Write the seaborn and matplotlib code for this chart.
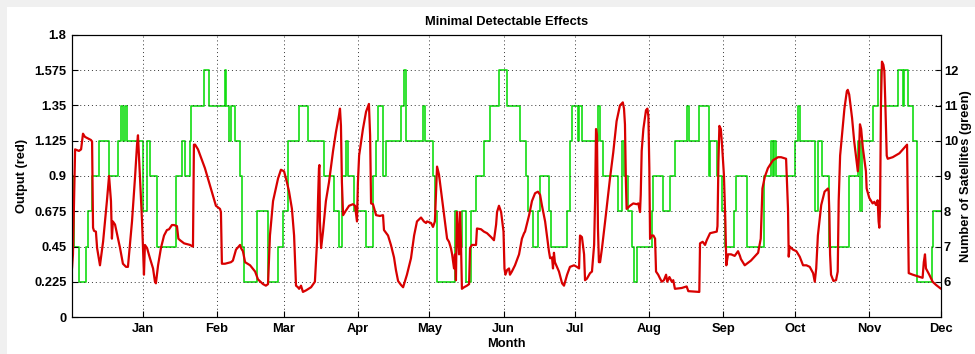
import numpy as np
import pandas as pd
import matplotlib
matplotlib.use("Agg")
import matplotlib.pyplot as plt
import seaborn as sns
from matplotlib.patches import Rectangle

# ---------------- data ----------------
# x unit: days since 1 Dec of the previous year
month_labels = ["Jan", "Feb", "Mar", "Apr", "May", "Jun", "Jul", "Aug", "Sep", "Oct", "Nov", "Dec"]
month_days = [31, 62, 90, 121, 151, 182, 212, 243, 274, 304, 335, 365]

left_ticks = [0, 0.225, 0.45, 0.675, 0.9, 1.125, 1.35, 1.575, 1.8]
left_tick_labels = ["0", "0.225", "0.45", "0.675", "0.9", "1.125", "1.35", "1.575", "1.8"]
right_ticks = [6, 7, 8, 9, 10, 11, 12]

# number of satellites (green), value holds from each day until the next
sat_days = [1.5, 2.3, 4.4, 7.4, 8.2, 9.9, 12.8, 17.0, 20.7, 22.0, 22.8, 23.7, 24.5, 31.2, 32.9,
            34.1, 37.1, 45.0, 47.5, 48.8, 50.9, 51.3, 56.7, 58.8, 65.5, 65.9, 67.2, 68.0, 69.7,
            71.8, 72.6, 73.4, 78.9, 83.5, 87.7, 89.8, 91.9, 96.5, 100.2, 106.9, 111.1, 113.2,
            114.4, 116.1, 117.0, 119.5, 124.5, 127.4, 128.7, 129.5, 131.6, 132.9, 139.1, 140.4,
            141.2, 148.3, 149.2, 152.5, 153.3, 154.2, 161.7, 162.6, 164.6, 166.3, 168.4, 170.5,
            173.8, 176.4, 180.1, 183.5, 188.9, 191.4, 192.2, 194.3, 196.4, 197.3, 201.0, 201.9,
            208.6, 209.8, 210.7, 213.2, 213.6, 214.8, 221.5, 222.4, 223.6, 229.9, 231.6, 232.4,
            234.1, 235.7, 236.6, 237.8, 244.1, 244.5, 248.7, 251.6, 253.7, 258.8, 259.6, 263.8,
            268.0, 268.4, 271.3, 273.4, 274.7, 278.4, 279.3, 283.9, 291.0, 293.9, 294.7, 295.2,
            296.0, 303.9, 305.2, 306.0, 312.3, 313.6, 315.2, 318.2, 326.5, 330.3, 331.1, 332.0,
            336.6, 338.7, 339.9, 347.0, 349.1, 349.5, 351.2, 353.3, 355.0, 361.2, 361.7, 365.0]
sat_counts = [9, 7, 6, 7, 8, 9, 10, 9, 10, 11, 10, 11, 10, 8, 10,
              9, 7, 9, 10, 9, 10, 11, 12, 11, 12, 11, 10, 11, 10,
              9, 7, 6, 8, 6, 7, 8, 10, 11, 10, 9, 8, 7,
              9, 10, 9, 8, 7, 9, 10, 11, 9, 10, 11, 12,
              10, 11, 10, 9, 8, 6, 8, 7, 8, 6, 8, 9,
              10, 11, 12, 11, 10, 9, 8, 7, 8, 9, 8, 7,
              8, 10, 11, 10, 11, 10, 11, 10, 9, 8, 10, 9,
              8, 7, 6, 7, 8, 9, 8, 9, 10, 11, 10, 11,
              9, 10, 9, 8, 7, 8, 9, 7, 9, 10, 9, 10,
              9, 10, 11, 10, 8, 10, 9, 7, 9, 10, 8, 10,
              11, 12, 11, 12, 11, 12, 11, 10, 6, 7, 8, 8]

# output (red)
out_days = [1.5, 1.9, 2.8, 4.4, 5.3, 6.1, 6.9, 9.4, 9.9, 10.3, 10.7, 11.5, 12.0, 13.2, 14.5,
            16.1, 17.0, 17.8, 18.2, 18.6, 19.5, 21.6, 22.8, 24.1, 24.9, 26.6, 27.9, 28.7, 29.1,
            29.5, 30.4, 30.8, 31.2, 31.6, 32.0, 32.9, 34.1, 35.0, 35.4, 36.2, 36.6, 37.5, 38.7,
            40.0, 41.2, 42.1, 43.3, 44.2, 45.4, 46.0, 46.7, 48.4, 50.9, 51.9, 52.1, 52.5, 53.0,
            54.2, 57.1, 59.6, 61.7, 63.4, 63.8, 64.2, 65.5, 68.0, 68.8, 70.1, 71.8, 72.2, 73.0,
            73.9, 76.0, 78.1, 79.3, 81.4, 82.6, 83.5, 84.3, 85.6, 87.7, 88.9, 90.2, 91.4, 92.3,
            93.5, 94.4, 95.2, 96.0, 96.5, 97.3, 98.1, 99.4, 101.5, 103.1, 104.0, 104.4, 104.8,
            105.0, 105.2, 105.7, 106.5, 107.7, 109.0, 110.7, 111.9, 113.2, 113.6, 114.0, 114.4,
            114.9, 116.1, 117.4, 119.0, 119.9, 120.7, 121.1, 121.6, 123.2, 124.5, 125.7, 126.2,
            126.6, 127.4, 128.7, 130.3, 131.6, 132.0, 133.7, 134.9, 136.2, 137.0, 137.9, 139.1,
            140.0, 141.6, 143.3, 144.6, 145.8, 147.5, 148.7, 149.6, 150.0, 151.7, 152.5, 153.3,
            153.8, 154.2, 155.0, 155.9, 157.1, 158.4, 159.2, 160.0, 160.5, 161.3, 161.7, 162.1,
            162.5, 163.0, 163.4, 163.8, 164.2, 164.6, 165.5, 166.7, 167.6, 168.0, 168.8, 170.5,
            170.9, 172.6, 173.8, 175.1, 176.8, 178.0, 178.9, 179.3, 180.1, 181.0, 181.4, 182.0,
            182.4, 182.8, 183.5, 184.3, 184.7, 185.5, 186.8, 188.5, 189.7, 190.6, 191.0, 192.7,
            193.9, 195.2, 196.4, 197.3, 198.1, 199.4, 201.0, 201.5, 202.3, 202.7, 203.1, 203.5,
            205.2, 206.5, 207.3, 208.6, 209.8, 211.5, 212.7, 213.6, 214.0, 214.8, 215.7, 216.1,
            216.9, 218.2, 219.0, 219.9, 220.3, 220.7, 221.1, 221.5, 221.9, 222.4, 223.2, 224.5,
            226.5, 227.9, 229.3, 230.7, 231.9, 232.4, 232.8, 233.2, 233.5, 234.2, 234.9, 236.3,
            237.7, 238.4, 239.1, 239.4, 239.8, 240.5, 241.6, 242.2, 242.6, 243.0, 243.3, 244.0,
            244.7, 245.4, 245.8, 246.7, 247.5, 248.2, 249.1, 250.0, 250.5, 251.4, 252.4, 253.0,
            253.7, 256.5, 258.6, 259.3, 263.5, 263.9, 264.2, 265.3, 266.3, 267.0, 268.4, 271.2,
            271.5, 271.9, 272.3, 272.9, 273.4, 274.2, 274.8, 275.2, 275.9, 277.2, 278.7, 280.1,
            280.9, 281.3, 282.9, 285.5, 288.5, 289.6, 290.3, 291.3, 292.6, 294.7, 296.8, 298.1,
            300.2, 301.0, 301.3, 301.7, 303.1, 304.5, 305.9, 307.3, 308.7, 310.1, 311.5, 312.2,
            312.8, 313.5, 314.9, 316.3, 317.7, 318.0, 318.3, 318.6, 319.0, 320.0, 321.1, 321.8,
            322.2, 322.8, 323.6, 324.6, 325.6, 326.0, 326.6, 327.8, 328.7, 329.4, 330.2, 330.6,
            331.1, 331.6, 332.3, 332.9, 333.6, 333.9, 335.0, 336.4, 337.1, 337.8, 338.5, 338.9,
            339.2, 339.5, 339.9, 340.3, 340.9, 341.3, 341.7, 342.3, 342.7, 344.8, 347.6, 349.6,
            350.8, 351.5, 353.2, 355.3, 357.3, 357.8, 358.3, 358.7, 360.1, 361.5, 362.9, 365.0]
out_values = [0.31, 0.40, 1.07, 1.06, 1.07, 1.17, 1.15, 1.13, 1.12, 0.57, 0.55, 0.545, 0.44, 0.33, 0.48,
              0.74, 0.90, 0.74, 0.50, 0.61, 0.59, 0.44, 0.34, 0.32, 0.32, 0.61, 0.90, 1.10, 1.16,
              1.03, 0.74, 0.61, 0.44, 0.27, 0.46, 0.44, 0.375, 0.33, 0.31, 0.225, 0.215, 0.33, 0.44,
              0.52, 0.555, 0.56, 0.587, 0.587, 0.58, 0.50, 0.49, 0.47, 0.46, 0.45, 0.45, 1.10, 1.10,
              1.07, 0.95, 0.82, 0.71, 0.69, 0.67, 0.34, 0.34, 0.35, 0.36, 0.43, 0.46, 0.44, 0.42,
              0.35, 0.33, 0.29, 0.24, 0.21, 0.20, 0.21, 0.52, 0.74, 0.885, 0.94, 0.93, 0.86, 0.80,
              0.69, 0.52, 0.20, 0.19, 0.18, 0.20, 0.16, 0.17, 0.19, 0.225, 0.48, 0.74, 0.95,
              0.97, 0.61, 0.44, 0.545, 0.74, 0.86, 1.06, 1.18, 1.29, 1.33, 1.22, 0.86,
              0.65, 0.68, 0.71, 0.72, 0.71, 0.61, 0.86, 1.03, 1.20, 1.31, 1.36, 1.16,
              0.725, 0.72, 0.65, 0.645, 0.65, 0.555, 0.52, 0.46, 0.38, 0.30, 0.23, 0.205,
              0.19, 0.27, 0.375, 0.52, 0.61, 0.635, 0.61, 0.60, 0.61, 0.60, 0.575, 0.61,
              0.80, 0.96, 0.91, 0.80, 0.65, 0.50, 0.48, 0.44, 0.40, 0.31, 0.40, 0.235,
              0.67, 0.52, 0.40, 0.67, 0.48, 0.18, 0.19, 0.20, 0.21, 0.44, 0.46, 0.46,
              0.565, 0.56, 0.545, 0.535, 0.51, 0.49, 0.59, 0.67, 0.71, 0.67, 0.62, 0.545,
              0.31, 0.27, 0.30, 0.31, 0.27, 0.29, 0.33, 0.40, 0.50, 0.535, 0.545, 0.65,
              0.74, 0.79, 0.80, 0.78, 0.71, 0.61, 0.42, 0.375, 0.38, 0.31, 0.41, 0.35,
              0.29, 0.215, 0.20, 0.27, 0.32, 0.33, 0.32, 0.31, 0.52, 0.51, 0.40, 0.235,
              0.245, 0.28, 0.29, 0.46, 0.74, 1.20, 1.16, 0.57, 0.35, 0.35, 0.44, 0.61,
              0.88, 1.05, 1.25, 1.35, 1.37, 1.33, 1.23, 0.86, 0.69, 0.70, 0.71, 0.725,
              0.72, 0.725, 0.67, 0.78, 1.06, 1.20, 1.32, 1.33, 1.28, 0.95, 0.50, 0.52,
              0.52, 0.50, 0.29, 0.27, 0.245, 0.225, 0.235, 0.27, 0.225, 0.255, 0.225, 0.235,
              0.18, 0.185, 0.195, 0.165, 0.16, 0.16, 0.47, 0.48, 0.46, 0.49, 0.535, 0.545,
              0.58, 0.99, 1.22, 1.20, 1.10, 0.905, 0.61, 0.33, 0.40, 0.40, 0.39, 0.42,
              0.39, 0.37, 0.33, 0.36, 0.41, 0.50, 0.82, 0.895, 0.95, 1.00, 1.02, 1.02,
              1.01, 0.69, 0.385, 0.45, 0.43, 0.42, 0.385, 0.33, 0.33, 0.32, 0.28, 0.225,
              0.31, 0.52, 0.715, 0.80, 0.82, 0.80, 0.67, 0.40, 0.27, 0.23, 0.235, 0.29,
              0.74, 1.03, 1.16, 1.33, 1.44, 1.45, 1.42, 1.27, 1.12, 1.03, 0.93, 1.01,
              1.23, 1.20, 1.08, 1.01, 0.93, 0.82, 0.76, 0.725, 0.735, 0.715, 0.745, 0.61,
              0.57, 0.69, 1.37, 1.63, 1.61, 1.57, 1.37, 1.03, 1.01, 1.02, 1.045, 1.08,
              1.10, 0.28, 0.27, 0.26, 0.25, 0.35, 0.40, 0.31, 0.27, 0.225, 0.205, 0.18]

title_text = "Minimal Detectable Effects"
xlabel_text = "Month"
left_label = "Output (red)"
right_label = "Number of Satellites (green)"

# ---------------- plotting ----------------
sns.set_theme(style="white")
plt.rcParams["font.family"] = ["Liberation Sans", "DejaVu Sans"]
FS = 9.3
plt.rcParams["font.size"] = FS
plt.rcParams["font.weight"] = "bold"

red_df = pd.DataFrame({"day": out_days, "output": out_values})
sat_df = pd.DataFrame({"day": sat_days, "sats": sat_counts})

fig = plt.figure(figsize=(9.75, 3.54), dpi=100)
fig.patch.set_facecolor("white")
# light grey frame at top and left of the figure window
fig.patches.append(Rectangle((0, 0), 7 / 975, 1, transform=fig.transFigure,
                             facecolor="#f0f0f0", edgecolor="none", zorder=0))
fig.patches.append(Rectangle((0, 1 - 7 / 354), 1, 7 / 354, transform=fig.transFigure,
                             facecolor="#f0f0f0", edgecolor="none", zorder=0))

ax = fig.add_axes([72 / 975, 37 / 354, 869 / 975, 282 / 354])
ax2 = ax.twinx()

sns.lineplot(data=sat_df, x="day", y="sats", ax=ax2, color="#12dd12", linewidth=1.2,
             drawstyle="steps-post", estimator=None, sort=False)
sns.lineplot(data=red_df, x="day", y="output", ax=ax, color="#d80000", linewidth=1.6,
             estimator=None, sort=False)

# red drawn over green
ax.set_zorder(ax2.get_zorder() + 1)
ax.patch.set_visible(False)
ax2.patch.set_facecolor("white")

ax.set_xlim(1.5, 365)
ax.set_ylim(0, 1.8)
ax2.set_ylim(5, 13)

ax.set_xticks(month_days)
ax.set_xticklabels(month_labels)
ax.set_yticks(left_ticks)
ax.set_yticklabels(left_tick_labels)
ax2.set_yticks(right_ticks)
ax2.set_yticklabels([str(t) for t in right_ticks])

for a in (ax, ax2):
    for s in a.spines.values():
        s.set_color("black")
        s.set_linewidth(0.8)

ax.tick_params(axis="both", direction="in", length=4, width=0.8, colors="black",
               labelsize=FS)
ax.tick_params(axis="y", left=True, right=False, pad=4)
ax.tick_params(axis="x", bottom=True, top=False, pad=4)
ax2.tick_params(axis="y", direction="in", length=4, width=0.8, colors="black",
                labelsize=FS, right=True, pad=2)

ax.grid(True, linestyle=(0, (1, 3)), color="#333333", linewidth=0.7)
ax2.grid(False)

ax.set_title(title_text, fontsize=FS, fontweight="bold", pad=7, color="black")
ax.set_xlabel(xlabel_text, fontsize=FS, fontweight="bold", color="black")
ax.xaxis.set_label_coords(0.5, -0.074)
ax.set_ylabel(left_label, fontsize=FS, fontweight="bold", color="black")
ax.yaxis.set_label_coords(-0.0506, 0.5)
ax2.set_ylabel(right_label, fontsize=FS, fontweight="bold", color="black")
ax2.yaxis.set_label_coords(1.0219, 0.5)

fig.savefig("out.png", dpi=100, facecolor=fig.get_facecolor())
